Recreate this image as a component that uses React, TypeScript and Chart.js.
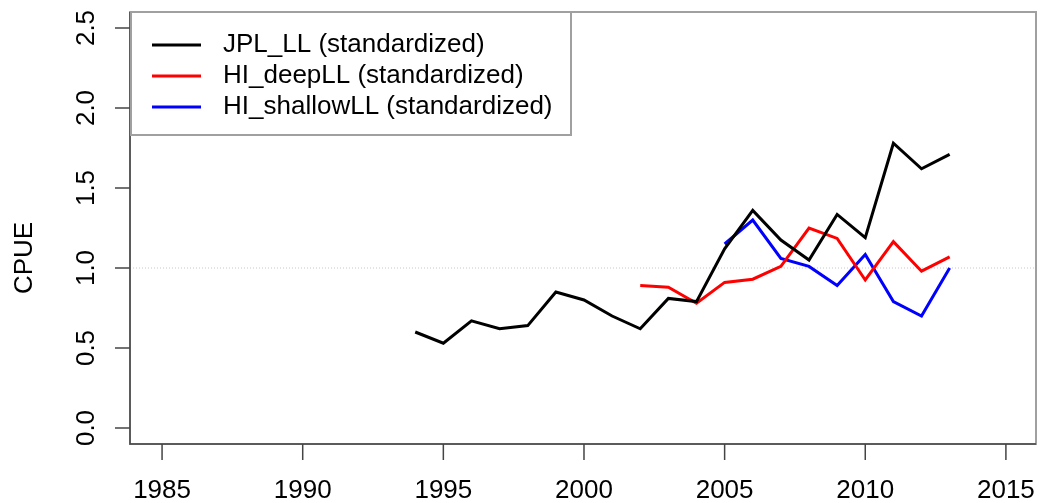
import React, { useEffect, useRef } from "react";
import { Chart, registerables } from "chart.js";
Chart.register(...registerables);

const years = [1994,1995,1996,1997,1998,1999,2000,2001,2002,2003,2004,2005,2006,2007,2008,2009,2010,2011,2012,2013];
const jplLL = [0.60,0.53,0.67,0.62,0.64,0.85,0.80,0.70,0.62,0.81,0.79,1.12,1.36,1.175,1.05,1.335,1.19,1.78,1.62,1.71];
const hiDeepYears = [2002,2003,2004,2005,2006,2007,2008,2009,2010,2011,2012,2013];
const hiDeep = [0.89,0.88,0.78,0.91,0.93,1.01,1.25,1.185,0.925,1.165,0.98,1.07];
const hiShallowYears = [2005,2006,2007,2008,2009,2010,2011,2012,2013];
const hiShallow = [1.15,1.30,1.06,1.01,0.89,1.085,0.79,0.70,1.00];
const xTicks = [1985,1990,1995,2000,2005,2010,2015];
const yTicks = [0.0,0.5,1.0,1.5,2.0,2.5];
const legendLabels = ["JPL_LL (standardized)","HI_deepLL (standardized)","HI_shallowLL (standardized)"];
const colors = ["#000000","#ff0000","#0000ff"];

const FONT = '26px "Liberation Sans", Arial, sans-serif';

const rPlugin = {
  id: "rstyle",
  beforeDatasetsDraw(chart: any) {
    const { ctx, chartArea: a, scales } = chart;
    const y1 = scales.y.getPixelForValue(1);
    ctx.save();
    ctx.strokeStyle = "#c8c8c8";
    ctx.lineWidth = 1;
    ctx.setLineDash([1, 2]);
    ctx.beginPath(); ctx.moveTo(a.left, y1); ctx.lineTo(a.right, y1); ctx.stroke();
    ctx.restore();
  },
  afterDatasetsDraw(chart: any) {
    const { ctx, chartArea: a, scales } = chart;
    ctx.save();
    ctx.strokeStyle = "#a0a0a0";
    ctx.lineWidth = 2;
    ctx.strokeRect(a.left, a.top, a.right - a.left, a.bottom - a.top);
    ctx.strokeStyle = "#444";
    ctx.lineWidth = 1.5;
    ctx.beginPath(); ctx.moveTo(a.left, a.top); ctx.lineTo(a.left, a.bottom); ctx.lineTo(a.right, a.bottom); ctx.stroke();
    ctx.fillStyle = "#000";
    ctx.font = FONT;
    ctx.textAlign = "center"; ctx.textBaseline = "top";
    for (const t of xTicks) {
      const x = scales.x.getPixelForValue(t);
      ctx.beginPath(); ctx.moveTo(x, a.bottom); ctx.lineTo(x, a.bottom + 16); ctx.stroke();
      ctx.fillText(String(t), x, a.bottom + 34);
    }
    for (const t of yTicks) {
      const y = scales.y.getPixelForValue(t);
      ctx.beginPath(); ctx.moveTo(a.left, y); ctx.lineTo(a.left - 15, y); ctx.stroke();
      ctx.save();
      ctx.translate(a.left - 30, y);
      ctx.rotate(-Math.PI / 2);
      ctx.textAlign = "center"; ctx.textBaseline = "bottom";
      ctx.fillText(t.toFixed(1), 0, 0);
      ctx.restore();
    }
    ctx.save();
    ctx.translate(38, (a.top + a.bottom) / 2 + 30);
    ctx.rotate(-Math.PI / 2);
    ctx.textAlign = "center"; ctx.textBaseline = "bottom";
    ctx.fillText("CPUE", 0, 0);
    ctx.restore();
    const lx = a.left + 1, ly = a.top, lw = 440, lh = 123;
    ctx.fillStyle = "#fff";
    ctx.fillRect(lx, ly, lw, lh);
    ctx.strokeStyle = "#a0a0a0"; ctx.lineWidth = 2;
    ctx.strokeRect(lx, ly, lw, lh);
    ctx.textAlign = "left"; ctx.textBaseline = "middle";
    for (let i = 0; i < 3; i++) {
      const yy = ly + 33 + i * 31;
      ctx.strokeStyle = colors[i]; ctx.lineWidth = 3;
      ctx.beginPath(); ctx.moveTo(a.left + 22, yy); ctx.lineTo(a.left + 71, yy); ctx.stroke();
      ctx.fillStyle = "#000";
      ctx.fillText(legendLabels[i], a.left + 93, yy);
    }
    ctx.restore();
  },
};

export default function App() {
  const ref = useRef<HTMLCanvasElement>(null);
  useEffect(() => {
    document.body.style.margin = "0";
    const mk = (xs: number[], ys: number[]) => xs.map((x, i) => ({ x, y: ys[i] }));
    const chart = new Chart(ref.current!, {
      type: "line",
      data: {
        datasets: [
          { data: mk(years, jplLL), borderColor: colors[0], borderWidth: 3 },
          { data: mk(hiDeepYears, hiDeep), borderColor: colors[1], borderWidth: 3 },
          { data: mk(hiShallowYears, hiShallow), borderColor: colors[2], borderWidth: 3 },
        ],
      },
      options: {
        animation: false,
        responsive: false,
        devicePixelRatio: 1,
        elements: { point: { radius: 0 }, line: { tension: 0 } },
        layout: { padding: { left: 130, right: 4, top: 12, bottom: 59 } },
        plugins: { legend: { display: false }, tooltip: { enabled: false } },
        scales: {
          x: { type: "linear", min: 1983.86, max: 2016.07, display: false },
          y: { type: "linear", min: -0.1, max: 2.6, display: false },
        },
      },
      plugins: [rPlugin],
    });
    return () => chart.destroy();
  }, []);
  return <canvas ref={ref} width={1040} height={503} style={{ display: "block" }} />;
}
